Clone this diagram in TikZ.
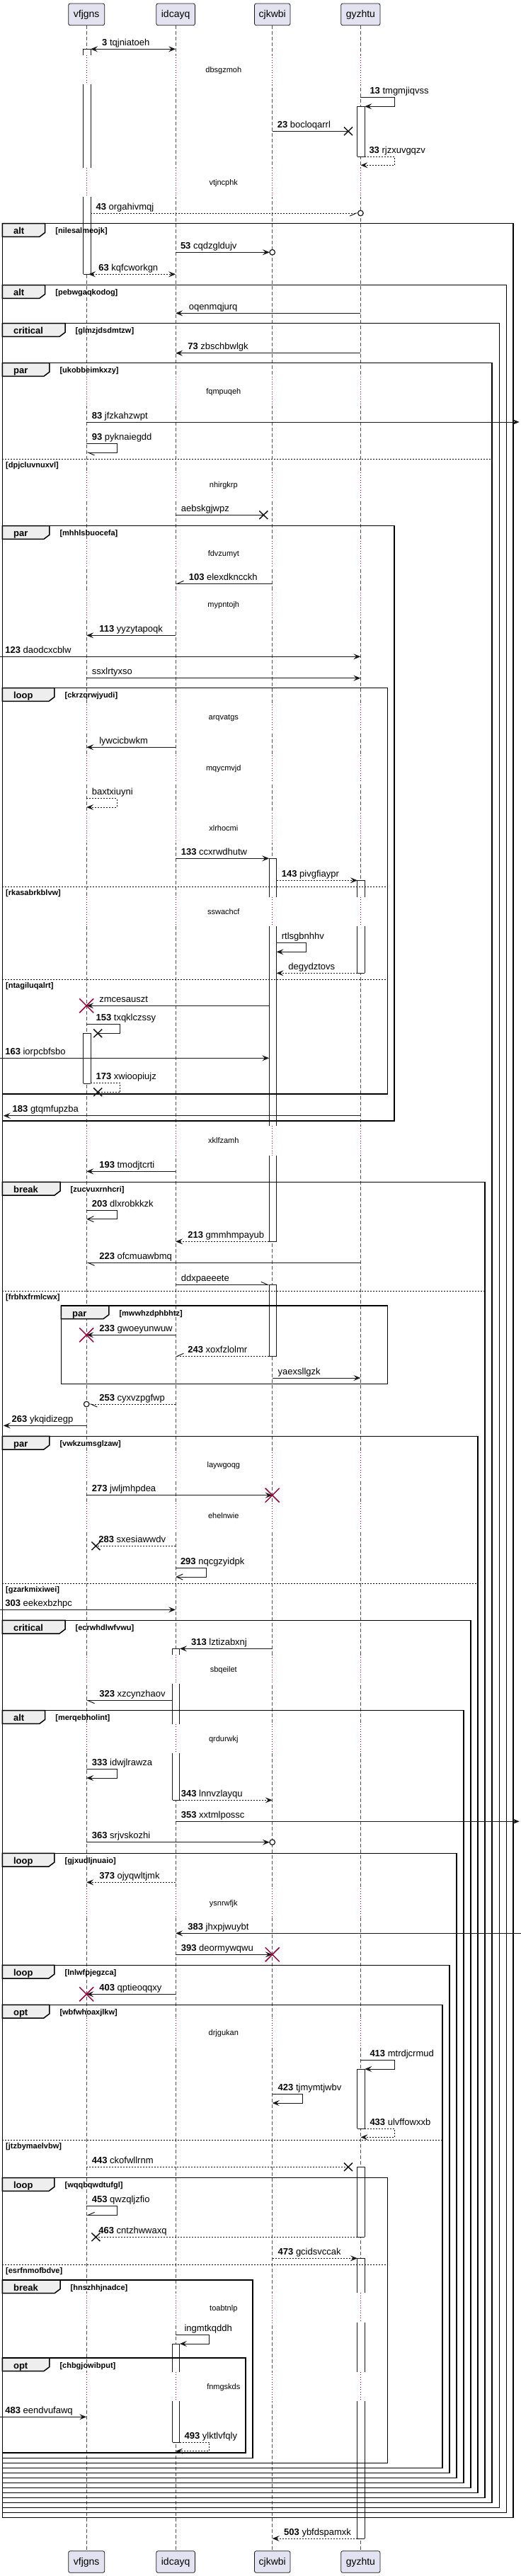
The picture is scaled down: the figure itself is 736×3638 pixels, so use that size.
\documentclass[tikz,border=0pt]{standalone}
\usepackage{fontspec}
\setmainfont{Liberation Sans}
\usetikzlibrary{arrows.meta}
\definecolor{partfill}{HTML}{E2E2F0}
\definecolor{pline}{HTML}{181818}
\definecolor{pred}{HTML}{A80036}
\definecolor{ptab}{HTML}{EEEEEE}
\def\xA{122.2}\def\xB{248.1}\def\xC{384.7}\def\xD{509.4}
\def\rA{128.0}\def\rB{253.9}\def\rC{390.5}\def\rD{515.2}
\def\bA{117.7}\def\bB{243.6}\def\bC{380.2}\def\bD{504.9}
\tikzset{
 msgline/.style={draw=pline, line width=1pt},
 dsh/.style={dash pattern=on 2pt off 2pt},
 fa/.style={-{Stealth[length=10pt,width=8pt,inset=4pt]}},
 ba/.style={{Stealth[length=10pt,width=8pt,inset=4pt]}-{Stealth[length=10pt,width=8pt,inset=4pt]}},
 oa/.style={-{Straight Barb[length=9pt,width=8pt]}},
 hl/.style={-{Straight Barb[harpoon,length=9pt,width=8pt]}},
 hr/.style={-{Straight Barb[harpoon,swap,length=9pt,width=8pt]}},
 lbl/.style={anchor=base west, inner sep=0pt, font=\fontsize{13}{15}\selectfont},
 dlbl/.style={anchor=base, inner sep=0pt, font=\fontsize{11}{13}\selectfont},
 glbl/.style={anchor=base west, inner sep=0pt, font=\fontsize{11}{13}\selectfont\bfseries},
 tlbl/.style={anchor=base west, inner sep=0pt, font=\fontsize{13}{15}\selectfont\bfseries},
 pname/.style={inner sep=0pt, font=\fontsize{14}{16}\selectfont},
 frm/.style={draw=black, line width=1.5pt},
 tabs/.style={draw=black, line width=1.5pt, fill=ptab},
 lifel/.style={draw=pline!75, line width=0.7pt, dash pattern=on 5pt off 3pt},
 barline/.style={draw=pline, line width=0.9pt},
 elsel/.style={draw=black, line width=0.8pt, dash pattern=on 2pt off 2pt},
}
\newcommand\nb[1]{\textbf{#1} }
\newcommand\m[6][]{\draw[msgline,#1] (#2,#4) -- (#3,#4); \node[lbl] at (#5,#4-4.8) {#6};}
\newcommand\sm[8][]{\draw[msgline,#1] (#2,#4) -- (#3,#4) -- (#3,#5) -- (#6,#5); \node[lbl] at (#7,#4-5) {#8};}
\newcommand\bx[2]{\draw[pline, line width=1.5pt] (#1-6,#2-5.8) -- (#1+6,#2+5.8) (#1-6,#2+5.8) -- (#1+6,#2-5.8);}
\newcommand\rx[2]{\draw[pred, line width=1.5pt] (#1-10,#2-10) -- (#1+10,#2+10) (#1-10,#2+10) -- (#1+10,#2-10);}
\newcommand\cend[2]{\draw[pline, line width=1.2pt, fill=white] (#1,#2) circle (3.8);}
\newcommand\delay[2]{%
 \foreach \xx in {\xA,\xB,\xC,\xD} {\fill[white] (\xx-2,#1-21.6) rectangle (\xx+2,#1+19.7);
  \draw[pred, line width=0.8pt, dash pattern=on 1pt off 2.5pt] (\xx,#1-21.6) -- (\xx,#1+19.7);}
 \node[dlbl] at (315.8,#1+3) {#2};}
\newcommand\seg[5]{%
 \fill[white] (#1-4.5,#2) rectangle (#1+5.8,#3);
 \draw[barline] (#1-4.5,#2) -- (#1-4.5,#3) (#1+5.8,#2) -- (#1+5.8,#3);
 \ifnum#4=1\relax \draw[barline] (#1-4.5,#2) -- (#1+5.8,#2);\fi
 \ifnum#5=1\relax \draw[barline] (#1-4.5,#3) -- (#1+5.8,#3);\fi}
\newcommand\cfrag[7]{%
 \draw[frm] (#1,#3) rectangle (#4,#5);
 \draw[tabs] (#1,#3) -- (#2,#3) -- (#2,#3+12.7) -- (#2-8,#3+18.7) -- (#1,#3+18.7) -- cycle;
 \node[tlbl] at (#1+15.6,#3+15) {#6};
 \node[glbl] at (#2+14.5,#3+14) {#7};}
\newcommand\elsesep[3]{\draw[elsel] (3.3,#1) -- (#2,#1); \node[glbl] at (8,#1+12) {#3};}
\newcommand\partbox[4]{%
 \draw[pline, fill=partfill, line width=0.8pt, rounded corners=2.5pt] (#3,5) rectangle (#4,35.7);
 \node[pname] at (#2,21.3) {#1};
 \draw[pline, fill=partfill, line width=0.8pt, rounded corners=2.5pt] (#3,3602.7) rectangle (#4,3633.3);
 \node[pname] at (#2,3619) {#1};}
\begin{document}
\begin{tikzpicture}[x=1pt,y=-1pt]
\useasboundingbox (0,0) rectangle (736,3638);
\fill[white] (0,0) rectangle (736,3638);
% lifelines
\foreach \xx in {\xA,\xB,\xC,\xD} \draw[lifel] (\xx,36) -- (\xx,3602.7);
% delays
\delay{99.3}{dbsgzmoh}
\delay{258.3}{vtjncphk}
\delay{553.3}{fqmpuqeh}
\delay{685.3}{nhirgkrp}
\delay{782}{fdvzumyt}
\delay{854.7}{mypntojh}
\delay{1013.3}{arqvatgs}
\delay{1085.3}{mqycmvjd}
\delay{1170}{xlrhocmi}
\delay{1288.3}{sswachcf}
\delay{1611.3}{xklfzamh}
\delay{2069.3}{laywgoqg}
\delay{2141.3}{ehelnwie}
\delay{2358.3}{sbqeilet}
\delay{2456.3}{qrdurwkj}
\delay{2688.7}{ysnrwfjk}
\delay{2871.3}{drjgukan}
\delay{3260}{toabtnlp}
\delay{3371.3}{fnmgskds}
% activation bars
\seg{\xA}{69.3}{77.7}{1}{0}
\seg{\xA}{119}{236.7}{0}{0}
\seg{\xA}{277.7}{387.3}{0}{1}
\seg{\xD}{150.3}{221}{1}{1}
\seg{\xC}{1212.3}{1266.7}{1}{0}
\seg{\xC}{1308}{1590}{0}{0}
\seg{\xC}{1631.7}{1753.3}{0}{1}
\seg{\xD}{1243.3}{1266.7}{1}{0}
\seg{\xD}{1308}{1374.3}{0}{1}
\seg{\xA}{1459.3}{1530}{1}{1}
\seg{\xC}{1814.3}{1915.3}{1}{1}
\seg{\xB}{2328.3}{2336.7}{1}{0}
\seg{\xB}{2378}{2434.7}{0}{0}
\seg{\xB}{2476}{2542.3}{0}{1}
\seg{\xD}{2922}{3006}{1}{1}
\seg{\xD}{3060.3}{3159.3}{1}{1}
\seg{\xD}{3189.3}{3238.4}{1}{0}
\seg{\xD}{3279.7}{3349.7}{0}{0}
\seg{\xD}{3391}{3585}{0}{1}
\seg{\xB}{3310}{3349.7}{1}{0}
\seg{\xB}{3391}{3449}{0}{1}
% fragments
\cfrag{3.3}{63.7}{315.7}{725.2}{3555.7}{alt}{[nilesalmeojk]}
\cfrag{3.3}{63.7}{402.7}{715.3}{3548.3}{alt}{[pebwgaqkodog]}
\cfrag{3.3}{92}{456.7}{705.3}{3541.3}{critical}{[glmzjdsdmtzw]}
\cfrag{3.3}{69.8}{512.7}{695}{3534.3}{par}{[ukobbeimkxzy]}
\cfrag{3.3}{69.8}{742.7}{557.2}{1583}{par}{[mhhlsbuocefa]}
\cfrag{3.3}{76.9}{971.7}{547.3}{1545}{loop}{[ckrzqrwjyudi]}
\cfrag{3.3}{85}{1669.3}{685}{3527.3}{break}{[zucvuxrnhcri]}
\cfrag{86.3}{153.8}{1844}{547.3}{1954.3}{par}{[mwwhzdphbhtz]}
\cfrag{3.3}{69.8}{2028.3}{675.1}{3520.3}{par}{[vwkzumsglzaw]}
\cfrag{3.3}{92}{2288.3}{665.2}{3513.3}{critical}{[ecrwhdlwfvwu]}
\cfrag{3.3}{63.7}{2415.7}{654.9}{3506.3}{alt}{[merqebholint]}
\cfrag{3.3}{76.9}{2617.3}{645}{3499.3}{loop}{[gjxudljnuaio]}
\cfrag{3.3}{76.9}{2775.3}{635}{3492.3}{loop}{[lnlwfpjegzca]}
\cfrag{3.3}{69.8}{2831.3}{625.1}{3485.3}{opt}{[wbfwhoaxjlkw]}
\cfrag{3.3}{76.9}{3075.7}{547.3}{3478.3}{loop}{[wqqbqwdtufgl]}
\cfrag{3.3}{85}{3220}{357.2}{3471.3}{break}{[hnszhhjnadce]}
\cfrag{3.3}{69.8}{3330}{347.2}{3464}{opt}{[chbgjowibput]}
\elsesep{648.3}{695}{[dpjcluvnuxvl]}
\elsesep{1252.3}{547.3}{[rkasabrkblvw]}
\elsesep{1383.3}{547.3}{[ntagiluqalrt]}
\elsesep{1823.3}{685}{[frbhxfrmlcwx]}
\elsesep{2236.3}{675.1}{[gzarkmixiwei]}
\elsesep{3022.3}{625.1}{[jtzbymaelvbw]}
\elsesep{3198.3}{547.3}{[esrfnmofbdve]}
% participants
\partbox{vfjgns}{122.2}{96.7}{147.7}
\partbox{idcayq}{248.1}{220.8}{275.5}
\partbox{cjkwbi}{384.7}{359.5}{410}
\partbox{gyzhtu}{509.4}{481.7}{537}
% messages
\m[ba]{\rA}{\xB}{69.3}{144}{\nb{3}tqjniatoeh}
\sm[fa]{\xD}{557.2}{137}{150.3}{\rD}{522.3}{\nb{13}tmgmjiqvss}
\m[]{\xC}{492}{185.3}{391.6}{\nb{23}bocloqarrl} \bx{492}{185.3}
\sm[fa,dsh]{\rD}{557.2}{221}{233.3}{\xD}{521.3}{\nb{33}rjzxuvgqzv}
\m[hr,dsh]{\rA}{\xD-3.8}{301}{135.4}{\nb{43}orgahivmqj} \cend{\xD}{301}
\m[fa]{\xB}{\xC-3.8}{356.3}{254.8}{\nb{53}cqdzgldujv} \cend{\xC}{356.3}
\m[ba,dsh]{125}{\xB}{387.3}{139.2}{\nb{63}kqfcworkgn}
\m[fa]{\xD}{\xB}{442.3}{266.6}{oqenmqjurq}
\m[fa]{\xD}{\xB}{498.7}{265.2}{\nb{73}zbschbwlgk}
\m[fa]{\xA}{733.7}{596}{129.7}{\nb{83}jfzkahzwpt}
\sm[hl]{\xA}{165.1}{626.7}{639}{\xA}{129.7}{\nb{93}pyknaiegdd}
\m[]{\xB}{372.3}{727.3}{255.7}{aebskgjwpz} \bx{372.3}{727.3}
\m[hr]{\xC}{\xB}{824.3}{266.6}{\nb{103}elexdkncckh}
\m[fa]{\xB}{\xA}{897.3}{140.1}{\nb{113}yyzytapoqk}
\m[fa]{0}{\xD}{927.3}{7.1}{\nb{123}daodcxcblw}
\m[fa]{\xA}{\xD}{957.7}{129.7}{ssxlrtyxso}
\m[fa]{\xB}{\xA}{1055.3}{140.1}{lywcicbwkm}
\sm[fa,dsh]{\xA}{165.1}{1127.7}{1140}{\xA}{129.7}{baxtxiuyni}
\m[fa]{\xB}{\bC}{1212.3}{255.7}{\nb{133}ccxrwdhutw}
\m[fa,dsh]{\rC}{\bD}{1243.3}{397.7}{\nb{143}pivgfiaypr}
\sm[fa]{\rC}{432.6}{1331.7}{1344.3}{\rC}{397.7}{rtlsgbnhhv}
\m[fa,dsh]{\bD}{\rC}{1374.3}{407.2}{degydztovs}
\m[fa]{\bC}{\xA}{1420.3}{140.1}{zmcesauszt} \rx{\xA}{1420.3}
\sm[]{\xA}{169.8}{1446.7}{1459.3}{138.2}{135.4}{\nb{153}txqklczssy} \bx{138.2}{1459.3}
\m[fa]{0}{\bC}{1494.3}{7.1}{\nb{163}iorpcbfsbo}
\sm[dsh]{\rA}{169.8}{1529.3}{1542.3}{138.2}{135.4}{\nb{173}xwioopiujz} \bx{138.2}{1542.3}
\m[fa]{\xD}{4.7}{1575.7}{17.5}{\nb{183}gtqmfupzba}
\m[fa]{\xB}{\xA}{1654.3}{140.1}{\nb{193}tmodjtcrti}
\sm[oa]{\xA}{165.1}{1709.3}{1721.7}{\xA}{129.7}{\nb{203}dlxrobkkzk}
\m[fa,dsh]{\bC}{\xB}{1753.3}{265.2}{\nb{213}gmmhmpayub}
\m[hl]{\xD}{\xA}{1783.3}{140.1}{\nb{223}ofcmuawbmq}
\m[hl]{\xB}{\bC}{1814.3}{255.7}{ddxpaeeete}
\m[fa]{\xB}{\xA}{1885.3}{140.1}{\nb{233}gwoeyunwuw} \rx{\xA}{1885.3}
\m[hr,dsh]{\bC}{\xB}{1915.3}{265.2}{\nb{243}xoxfzlolmr}
\m[fa]{\xC}{\xD}{1946}{392.5}{yaexsllgzk}
\m[hl,dsh]{\xB}{\xA+3.8}{1983}{140.1}{\nb{253}cyxvzpgfwp} \cend{\xA}{1983}
\m[fa]{\xA}{4.7}{2013.3}{16.5}{\nb{263}ykqidizegp}
\m[fa]{\xA}{\xC}{2111.7}{129.7}{\nb{273}jwljmhpdea} \rx{\xC}{2111.7}
\m[dsh]{\xB}{135.4}{2183.3}{139.2}{\nb{283}sxesiawwdv} \bx{135.4}{2183.3}
\sm[oa]{\xB}{291.1}{2214.3}{2227}{\xB}{254.8}{\nb{293}nqcgzyidpk}
\m[fa]{0}{\xB}{2273.3}{7.1}{\nb{303}eekexbzhpc}
\m[fa]{\xC}{\rB}{2328.3}{269.9}{\nb{313}lztizabxnj}
\m[hl]{\bB}{\xA}{2401.7}{140.1}{\nb{323}xzcynzhaov}
\sm[fa]{\xA}{165.1}{2498.3}{2511}{\xA}{129.7}{\nb{333}idwjlrawza}
\m[fa,dsh]{\rB}{\xC}{2542.3}{255.7}{\nb{343}lnnvzlayqu}
\m[fa]{\xB}{733.7}{2572.3}{255.7}{\nb{353}xxtmlpossc}
\m[fa]{\xA}{\xC-3.8}{2601.7}{129.7}{\nb{363}srjvskozhi} \cend{\xC}{2601.7}
\m[fa,dsh]{\xB}{\xA}{2658.3}{140.1}{\nb{373}ojyqwltjmk}
\m[fa]{736}{\xB}{2730.3}{265.2}{\nb{383}jhxpjwuybt}
\m[fa]{\xB}{\xC}{2760.3}{255.7}{\nb{393}deormywqwu} \rx{\xC}{2760.3}
\m[fa]{\xB}{\xA}{2816.3}{140.1}{\nb{403}qptieoqqxy} \rx{\xA}{2816.3}
\sm[fa]{\xD}{557.2}{2909.3}{2922}{\rD}{522.3}{\nb{413}mtrdjcrmud}
\sm[fa]{\xC}{427.5}{2957.3}{2970}{\xC}{392.5}{\nb{423}tjmymtjwbv}
\sm[fa,dsh]{\rD}{557.2}{3006}{3018.3}{\xD}{522.3}{\nb{433}ulvffowxxb}
\m[dsh]{\xA}{492}{3060.3}{129.7}{\nb{443}ckofwllrnm} \bx{492}{3060.3}
\sm[hr]{\xA}{165.1}{3115.3}{3128.3}{\xA}{129.7}{\nb{453}qwzqljzfio}
\m[dsh]{\bD}{135.4}{3159.3}{139.2}{\nb{463}cntzhwwaxq} \bx{135.4}{3159.3}
\m[fa,dsh]{\xC}{\bD}{3189.3}{392.5}{\nb{473}gcidsvccak}
\sm[fa]{\xB}{295.8}{3297.3}{3310}{\rB}{260.4}{ingmtkqddh}
\m[fa]{0}{\xA}{3413.3}{7.1}{\nb{483}eendvufawq}
\sm[fa,dsh]{\rB}{295.8}{3449}{3461.7}{\xB}{260.4}{\nb{493}ylktlvfqly}
\m[fa,dsh]{\bD}{\xC}{3585}{401}{\nb{503}ybfdspamxk}
\end{tikzpicture}
\end{document}
